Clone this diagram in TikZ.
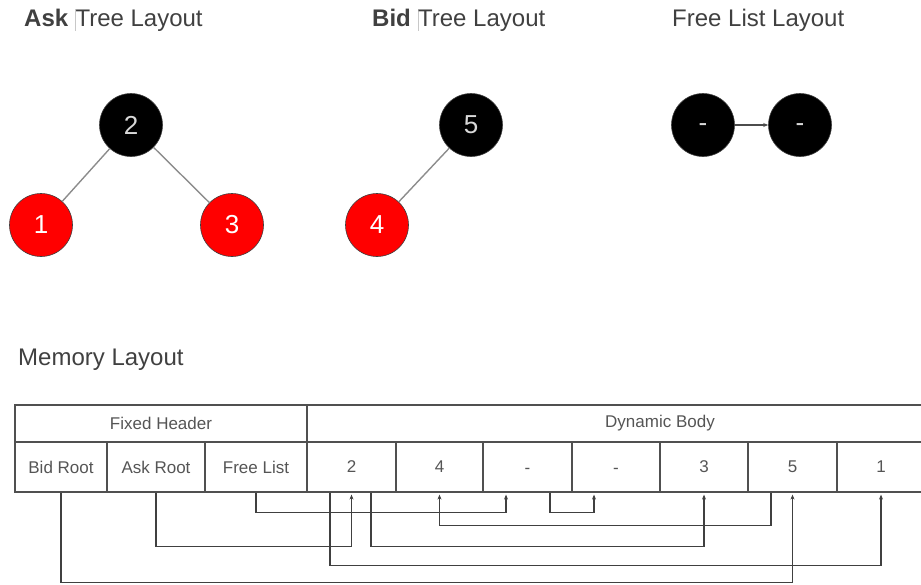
\documentclass[tikz,border=0pt]{standalone}
\usepackage{fontspec}
\setmainfont{Liberation Sans}
\usetikzlibrary{arrows.meta}
\definecolor{txt}{HTML}{404040}
\definecolor{celltxt}{HTML}{555555}
\definecolor{grid}{HTML}{505050}
\definecolor{cursor}{HTML}{C8C8C8}
\begin{document}
\begin{tikzpicture}[x=1pt,y=-1pt,
  heading/.style={anchor=west, font=\fontsize{24}{28}\selectfont, text=txt, inner sep=0pt},
  tnode/.style={circle, minimum size=63pt, inner sep=0pt, draw=black!75, line width=0.6pt, font=\fontsize{26}{30}\selectfont},
  blacknode/.style={tnode, fill=black, text=black!15},
  rednode/.style={tnode, fill=red, text=white},
  dashnode/.style={blacknode, text height=13.6pt, text depth=0pt},
  tedge/.style={draw=black!45, line width=1.4pt},
  flarrow/.style={draw=black!70, line width=1.2pt, -{Stealth[length=5pt,width=4pt]}},
  cell/.style={draw=grid, line width=1.2pt, inner sep=0pt, minimum height=50pt, font=\fontsize{17}{20}\selectfont, text=celltxt},
  dashcell/.style={cell, text height=12.2pt, text depth=0pt},
  hcell/.style={cell, minimum height=37pt},
  conn/.style={draw=black!75, line width=1.1pt, -{Stealth[length=5pt,width=4pt]}, shorten >=2pt}
]
\useasboundingbox (0,0) rectangle (921,584);
\clip (0,0) rectangle (921,584);

% headings
\node[heading] (hask) at (24,20) {\textbf{Ask} {\color{cursor}\rule[-4pt]{0.6pt}{22pt}}Tree Layout};
\node[heading] (hbid) at (372,20) {\textbf{Bid} {\color{cursor}\rule[-4pt]{0.6pt}{22pt}}Tree Layout};
\node[heading] (hfree) at (672,20) {Free List Layout};
\node[heading] (hmem) at (18,360) {Memory Layout};

% ask tree
\node[blacknode] (n2) at (131,125) {2};
\node[rednode] (n1) at (41,225) {1};
\node[rednode] (n3) at (232,225) {3};
\draw[tedge] (n2) -- (n1);
\draw[tedge] (n2) -- (n3);

% bid tree
\node[blacknode] (n5) at (471,125) {5};
\node[rednode] (n4) at (377,225) {4};
\draw[tedge] (n5) -- (n4);

% free list
\node[dashnode] (f1) at (703,125) {-};
\node[dashnode] (f2) at (800,125) {-};
\draw[flarrow] (f1) -- (f2);

% memory table
\node[hcell, minimum width=292pt] (fh) at (161,423.5) {Fixed Header};
\node[hcell, minimum width=706pt] (db) at (660,423.5) {Dynamic Body};
\node[cell, minimum width=92pt] (cbid) at (61,467) {Bid Root};
\node[cell, minimum width=98pt] (cask) at (156,467) {Ask Root};
\node[cell, minimum width=102pt] (cfree) at (256,467) {Free List};
\node[cell, minimum width=89pt] (c2) at (351.5,467) {2};
\node[cell, minimum width=87pt] (c4) at (439.5,467) {4};
\node[dashcell, minimum width=89pt] (cd1) at (527.5,467) {-};
\node[dashcell, minimum width=88pt] (cd2) at (616,467) {-};
\node[cell, minimum width=88pt] (c3) at (704,467) {3};
\node[cell, minimum width=89pt] (c5) at (792.5,467) {5};
\node[cell, minimum width=88pt] (c1) at (881,467) {1};

% pointers
\draw[conn] (cbid.south) -- ++(0,90) -| (c5.south);
\draw[conn] (cask.south) -- ++(0,54) -| (c2.south);
\draw[conn] (cfree.south) -- ++(0,20) -| ([xshift=-21.5pt]cd1.south);
\draw[conn] ([xshift=22.5pt]cd1.south) -- ++(0,20) -| ([xshift=-22pt]cd2.south);
\draw[conn] ([xshift=-21.5pt]c2.south) -- ++(0,73) -| (c1.south);
\draw[conn] ([xshift=19.5pt]c2.south) -- ++(0,54) -| (c3.south);
\draw[conn] ([xshift=-21.5pt]c5.south) -- ++(0,33) -| (c4.south);
\end{tikzpicture}
\end{document}
